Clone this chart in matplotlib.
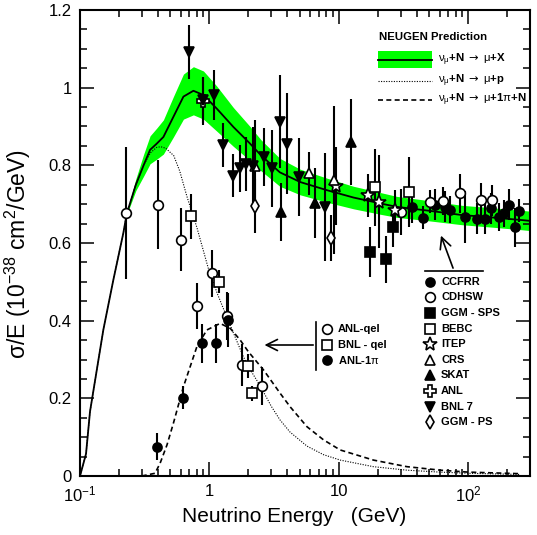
import numpy as np
import matplotlib.pyplot as plt
from matplotlib.patches import Rectangle
from matplotlib.ticker import MultipleLocator, NullFormatter, FuncFormatter

plt.rcParams['font.family'] = ['Liberation Sans', 'DejaVu Sans']
plt.rcParams['mathtext.fontset'] = 'custom'
plt.rcParams['mathtext.rm'] = 'Liberation Sans'
plt.rcParams['mathtext.it'] = 'Liberation Sans'
plt.rcParams['mathtext.bf'] = 'Liberation Sans:bold'
plt.rcParams['mathtext.sf'] = 'DejaVu Sans'

# NEUGEN prediction: total (with band half width), quasi-elastic, single pion
e_tot = [0.1, 0.1113, 0.1195, 0.1514, 0.181, 0.216, 0.23, 0.27, 0.31, 0.348,
         0.392, 0.441, 0.527, 0.63, 0.752, 0.899, 1.14, 1.53, 2.06, 2.5,
         3.5, 5.03, 8.09, 13.0, 20.9, 28.1, 50, 89.5, 150, 261, 300]
s_tot = [0.0, 0.057, 0.166, 0.376, 0.505, 0.625, 0.676, 0.75, 0.80, 0.84,
         0.856, 0.873, 0.925, 0.977, 0.992, 0.981, 0.946, 0.899, 0.856, 0.826,
         0.782, 0.757, 0.736, 0.717, 0.702, 0.693, 0.683, 0.672, 0.666, 0.659, 0.657]
w_tot = [0, 0, 0, 0, 0, 0, 0.003, 0.015, 0.028, 0.036,
         0.04, 0.044, 0.052, 0.058, 0.062, 0.062, 0.058, 0.05, 0.044, 0.04,
         0.036, 0.033, 0.031, 0.029, 0.028, 0.027, 0.026, 0.025, 0.025, 0.025, 0.025]

e_qel = [0.1, 0.1113, 0.1195, 0.1514, 0.181, 0.216, 0.23, 0.27, 0.31, 0.35,
         0.39, 0.42, 0.46, 0.53, 0.59, 0.67, 0.8, 0.98, 1.15, 1.36, 1.83,
         2.1, 2.47, 3.0, 3.5, 4.2, 5.67, 7.6, 10.25, 18.5, 33.6, 60, 100, 250]
s_qel = [0.0, 0.057, 0.166, 0.376, 0.505, 0.625, 0.676, 0.75, 0.80, 0.832,
         0.846, 0.848, 0.844, 0.825, 0.785, 0.72, 0.64, 0.535, 0.47, 0.41, 0.307,
         0.27, 0.232, 0.18, 0.145, 0.113, 0.077, 0.055, 0.041, 0.024, 0.015, 0.01, 0.007, 0.004]

e_pi = [0.3, 0.38, 0.416, 0.47, 0.527, 0.63, 0.8, 0.955, 1.21, 1.45, 1.73,
        2.0, 2.62, 3.52, 4.21, 5.67, 7.62, 10.25, 18.5, 33.6, 60.8, 100, 250]
s_pi = [0.0, 0.007, 0.033, 0.08, 0.136, 0.23, 0.333, 0.376, 0.393, 0.38, 0.35,
        0.32, 0.273, 0.213, 0.178, 0.127, 0.093, 0.067, 0.041, 0.024, 0.015, 0.01, 0.006]

# total cross section measurements: energy (GeV), sigma/E, error
ccfrr_e = [36.7, 44.7, 54.9, 65.7, 72.8, 95, 117, 134, 151, 172, 188, 205, 229, 245]
ccfrr_s = [0.692, 0.665, 0.698, 0.693, 0.686, 0.667, 0.663, 0.662, 0.689, 0.667,
           0.676, 0.698, 0.640, 0.683]
ccfrr_err = [0.04, 0.03, 0.04, 0.04, 0.035, 0.067, 0.04, 0.04, 0.04, 0.035,
             0.035, 0.04, 0.05, 0.03]

cdhsw_e = [30.4, 50.3, 63.8, 86.9, 126, 153]
cdhsw_s = [0.680, 0.706, 0.708, 0.728, 0.710, 0.710]
cdhsw_err = [0.06, 0.03, 0.035, 0.05, 0.045, 0.04]

ggmsps_e = [17.5, 23.0, 26.2]
ggmsps_s = [0.577, 0.558, 0.640]
ggmsps_err = [0.065, 0.06, 0.05]

bebc_e = [19.1, 34.6]
bebc_s = [0.743, 0.732]
bebc_err = [0.1, 0.09]

itep_e = [9.55, 16.9, 20.3, 27.3]
itep_s = [0.746, 0.723, 0.706, 0.686]
itep_err = [0.1, 0.055, 0.12, 0.05]

crs_e = [2.25, 5.83, 9.1]
crs_s = [0.798, 0.779, 0.762]
crs_err = [0.12, 0.055, 0.19]

skat_e = [3.57, 6.56, 12.4]
skat_s = [0.680, 0.702, 0.860]
skat_err = [0.075, 0.09, 0.11]

anl_e = [0.89]
anl_s = [0.965]
anl_err = [0.06]

bnl7_e = [0.700, 0.899, 1.087, 1.28, 1.53, 1.71, 1.92, 2.18, 2.62, 3.04, 3.48, 4.01, 4.88, 7.85]
bnl7_s = [1.092, 0.968, 0.981, 0.852, 0.773, 0.792, 0.803, 0.798, 0.822, 0.792,
          0.912, 0.856, 0.770, 0.693]
bnl7_err = [0.07, 0.06, 0.065, 0.056, 0.055, 0.06, 0.07, 0.1, 0.075, 0.1,
            0.12, 0.13, 0.1, 0.14]

ggmps_e = [2.24, 8.69]
ggmps_s = [0.695, 0.613]
ggmps_err = [0.07, 0.06]

# exclusive channels
anlqel_e = [0.227, 0.403, 0.604, 0.808, 1.05, 1.36, 1.78, 2.57]
anlqel_s = [0.678, 0.699, 0.609, 0.438, 0.522, 0.412, 0.286, 0.232]
anlqel_err = [0.17, 0.115, 0.08, 0.06, 0.06, 0.062, 0.054, 0.049]

bnlqel_e = [0.718, 1.19, 1.98, 2.13]
bnlqel_s = [0.669, 0.50, 0.283, 0.213]
bnlqel_err = [0.058, 0.03, 0.03, 0.02]

anlpi_e = [0.392, 0.63, 0.883, 1.13, 1.40]
anlpi_s = [0.075, 0.202, 0.342, 0.342, 0.402]
anlpi_err = [0.035, 0.03, 0.05, 0.05, 0.07]

W, H = 537, 535
fig = plt.figure(figsize=(W / 100, H / 100), dpi=100)
ax = fig.add_axes([80 / W, 59 / H, 450 / W, 466 / H])


def fx(px):
    return (px - 80) / 450


def fy(py):
    return (476 - py) / 466


green = '#00ff00'
e_t = np.array(e_tot)
s_t = np.array(s_tot)
w_t = np.array(w_tot)
band = e_t >= 0.216
ax.fill_between(e_t[band], (s_t - w_t)[band], (s_t + w_t)[band], color=green, lw=0, zorder=1)
ax.plot(e_tot, s_tot, color='k', lw=1.3, zorder=3)
ax.plot(e_qel, s_qel, color='k', lw=0.8, ls=(0, (1, 1.3)), zorder=2)
ax.plot(e_pi, s_pi, color='k', lw=1.2, ls=(0, (3, 2)), zorder=2)

styles = {
    'CCFRR': ('o', 'k', 6.5),
    'CDHSW': ('o', 'w', 7),
    'GGM - SPS': ('s', 'k', 6.5),
    'BEBC': ('s', 'w', 7),
    'ITEP': ('*', 'w', 10),
    'CRS': ('^', 'w', 7.5),
    'SKAT': ('^', 'k', 7),
    'ANL': ('P', 'w', 8),
    'BNL 7': ('v', 'k', 7),
    'GGM - PS': ('d', 'w', 7),
}
sets = {
    'CCFRR': (ccfrr_e, ccfrr_s, ccfrr_err),
    'CDHSW': (cdhsw_e, cdhsw_s, cdhsw_err),
    'GGM - SPS': (ggmsps_e, ggmsps_s, ggmsps_err),
    'BEBC': (bebc_e, bebc_s, bebc_err),
    'ITEP': (itep_e, itep_s, itep_err),
    'CRS': (crs_e, crs_s, crs_err),
    'SKAT': (skat_e, skat_s, skat_err),
    'ANL': (anl_e, anl_s, anl_err),
    'BNL 7': (bnl7_e, bnl7_s, bnl7_err),
    'GGM - PS': (ggmps_e, ggmps_s, ggmps_err),
}
low_styles = {
    'ANL-qel': ('o', 'w', 7),
    'BNL - qel': ('s', 'w', 7),
    r'ANL-1$\pi$': ('o', 'k', 6.5),
}
low_sets = {
    'ANL-qel': (anlqel_e, anlqel_s, anlqel_err),
    'BNL - qel': (bnlqel_e, bnlqel_s, bnlqel_err),
    r'ANL-1$\pi$': (anlpi_e, anlpi_s, anlpi_err),
}

for group, st in ((sets, styles), (low_sets, low_styles)):
    for name, (e, s, err) in group.items():
        m, fc, ms = st[name]
        ax.errorbar(e, s, yerr=err, fmt=m, color='k', mfc=fc, mec='k', ms=ms,
                    mew=1.2, elinewidth=1.5, capsize=0, zorder=5)

ax.set_xscale('log')
ax.set_xlim(0.1, 300)
ax.set_ylim(0, 1.2)
ax.set_xticks([0.1, 1, 10, 100])
ax.set_xticklabels(['$10^{-1}$', '1', '10', '$10^{2}$'])
ax.xaxis.set_minor_formatter(NullFormatter())
ax.yaxis.set_major_locator(MultipleLocator(0.2))
ax.yaxis.set_minor_locator(MultipleLocator(0.05))
ax.yaxis.set_major_formatter(FuncFormatter(lambda v, p: f'{v:g}'))
ax.tick_params(which='both', direction='in', top=True, right=True, labelsize=12)
ax.tick_params(which='major', length=10, width=1.1, pad=6)
ax.tick_params(which='minor', length=5, width=1.1)
for sp in ax.spines.values():
    sp.set_linewidth(1.5)

ax.set_xlabel('Neutrino Energy   (GeV)', fontsize=15)
ax.xaxis.set_label_coords(0.476, -0.066)
ax.set_ylabel(r'σ/E (10$^{-38}$ cm$^2$/GeV)', fontsize=16.5)
ax.yaxis.set_label_coords(-0.104, 0.476)

# NEUGEN legend
ax.text(fx(379), fy(37), 'NEUGEN Prediction', transform=ax.transAxes,
        fontsize=8.2, fontweight='bold', va='center')
ax.add_patch(Rectangle((fx(378), fy(67.5)), (432 - 378) / 450, 16 / 466,
                       transform=ax.transAxes, color=green, lw=0, clip_on=False))
ax.plot([fx(378), fx(432)], [fy(59.7)] * 2, color='k', lw=1.3, transform=ax.transAxes)
ax.plot([fx(378), fx(432)], [fy(81)] * 2, color='k', lw=0.8, ls=(0, (1, 1.3)),
        transform=ax.transAxes)
ax.plot([fx(378), fx(432)], [fy(100)] * 2, color='k', lw=1.2, ls=(0, (3, 2)),
        transform=ax.transAxes)
arrow = r'$\mathsf{\rightarrow}$'
neugen_labels = [r'$\nu_\mu$+N ' + arrow + r' $\mu$+X',
                 r'$\nu_\mu$+N ' + arrow + r' $\mu$+p',
                 r'$\nu_\mu$+N ' + arrow + r' $\mu$+1$\pi$+N']
for lab, py in zip(neugen_labels, [59.7, 81, 100]):
    ax.text(fx(438), fy(py), lab, transform=ax.transAxes, fontsize=8.2,
            fontweight='bold', va='center')

# experiment legend
ax.plot([fx(425), fx(483)], [fy(270.7)] * 2, color='k', lw=1.2, transform=ax.transAxes)
ax.annotate('', xy=(fx(440), fy(233)), xytext=(fx(454), fy(270.7)),
            xycoords='axes fraction',
            arrowprops=dict(arrowstyle='->', lw=1.2, mutation_scale=20, color='k'))
for i, name in enumerate(styles):
    m, fc, ms = styles[name]
    py = 281.7 + i * 15.6
    ax.plot([fx(430)], [fy(py)], marker=m, mfc=fc, mec='k', ms=ms, mew=1.2,
            transform=ax.transAxes, clip_on=False)
    ax.text(fx(441), fy(py), name, transform=ax.transAxes, fontsize=8,
            fontweight='bold', va='center')

# exclusive channel legend
ax.plot([fx(316)] * 2, [fy(321.7), fy(370)], color='k', lw=1.2, transform=ax.transAxes)
ax.annotate('', xy=(fx(261.7), fy(345)), xytext=(fx(316), fy(345)),
            xycoords='axes fraction',
            arrowprops=dict(arrowstyle='->', lw=1.2, mutation_scale=20, color='k'))
for i, name in enumerate(low_styles):
    m, fc, ms = low_styles[name]
    py = 329.3 + i * 15.3
    ax.plot([fx(327.3)], [fy(py)], marker=m, mfc=fc, mec='k', ms=ms, mew=1.2,
            transform=ax.transAxes, clip_on=False)
    ax.text(fx(338), fy(py), name, transform=ax.transAxes, fontsize=8,
            fontweight='bold', va='center')

fig.savefig('out.png', dpi=100)
